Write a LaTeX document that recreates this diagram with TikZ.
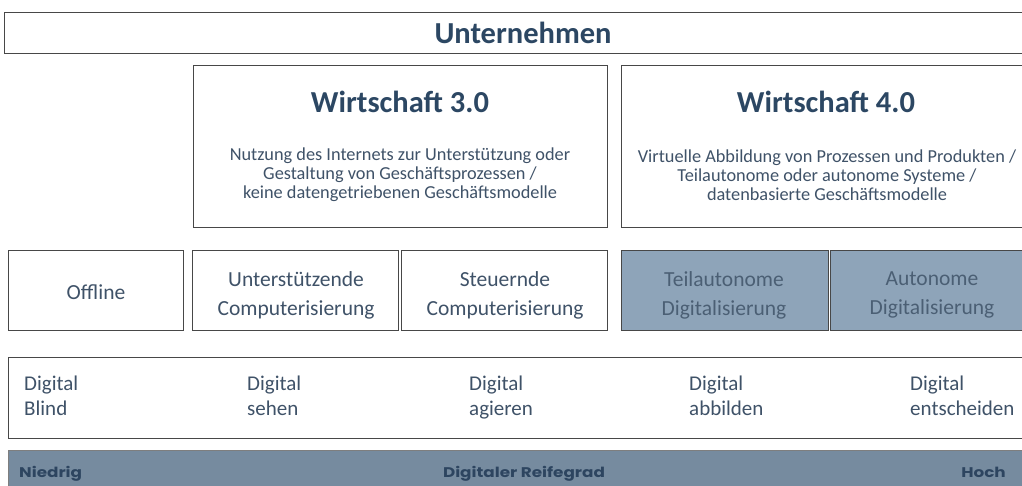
\documentclass[tikz,border=0pt]{standalone}
\usepackage{fontspec}
\setmainfont{Carlito}
\newfontfamily\barfont{Poppins}[FakeStretch=1.2]
\definecolor{headc}{HTML}{2C4763}
\definecolor{bodyc}{HTML}{3F5268}
\definecolor{darkfill}{HTML}{8EA4B9}
\definecolor{darktext}{HTML}{4B5F74}
\definecolor{barfill}{HTML}{768B9F}
\definecolor{bartext}{HTML}{2D4560}
\definecolor{framec}{HTML}{474747}
\tikzset{
  frame/.style={draw=framec, line width=1.3pt, fill=white, inner sep=0pt, anchor=north west},
  darkframe/.style={frame, fill=darkfill},
  struts/.style={execute at begin node={\vphantom{Üg}}, execute at end node={\vphantom{Üg}}},
  heading/.style={text=headc, font=\fontsize{30.5}{36}\selectfont\bfseries, inner sep=0pt},
  bodytext/.style={text=bodyc, font=\fontsize{18.3}{19.2}\selectfont, align=center, inner sep=0pt},
  celltext/.style={text=bodyc, font=\fontsize{21.5}{29}\selectfont, align=center, inner sep=0pt},
  celltwo/.style={celltext, struts},
  darkcelltext/.style={celltwo, text=darktext},
  leveltext/.style={text=bodyc, font=\fontsize{21}{25}\selectfont, align=left, anchor=west, inner sep=0pt, struts},
  bartxt/.style={text=bartext, font=\fontsize{14}{16}\selectfont\barfont\bfseries, inner sep=0pt, struts}
}
\begin{document}
\begin{tikzpicture}[x=1pt, y=-1pt]
\useasboundingbox (0,0) rectangle (1022,485);
\clip (0,0) rectangle (1022,485);
% top
\node[frame, minimum width=1030pt, minimum height=41pt] (top) at (4,12) {};
\node[heading] (toplbl) at (523,33) {Unternehmen};
% Wirtschaft boxes
\node[frame, minimum width=414pt, minimum height=162pt] (w3) at (193,65) {};
\node[heading] (w3h) at (400,102) {Wirtschaft 3.0};
\node[bodytext] (w3b) at (400,175) {Nutzung des Internets zur Unterstützung oder\\Gestaltung von Geschäftsprozessen /\\keine datengetriebenen Geschäftsmodelle};
\node[frame, minimum width=420pt, minimum height=162pt] (w4) at (621,65) {};
\node[heading] (w4h) at (826,102) {Wirtschaft 4.0};
\node[bodytext] (w4b) at (827,175) {Virtuelle Abbildung von Prozessen und Produkten /\\Teilautonome oder autonome Systeme /\\datenbasierte Geschäftsmodelle};
% row 2
\node[frame, minimum width=175pt, minimum height=80pt] (off) at (8,250) {};
\node[celltext] (offl) at (96,292) {Offline};
\node[frame, minimum width=206pt, minimum height=80pt] (uc) at (192,250) {};
\node[celltwo] (ucl) at (296,295) {Unterstützende\\Computerisierung};
\node[frame, minimum width=206pt, minimum height=80pt] (sc) at (401,250) {};
\node[celltwo] (scl) at (505,295) {Steuernde\\Computerisierung};
\node[darkframe, minimum width=207pt, minimum height=80pt] (td) at (621,250) {};
\node[darkcelltext] (tdl) at (724,295) {Teilautonome\\Digitalisierung};
\node[darkframe, minimum width=207pt, minimum height=80pt] (ad) at (830,250) {};
\node[darkcelltext] (adl) at (932,295) {Autonome\\Digitalisierung};
% row 3
\node[frame, minimum width=1030pt, minimum height=81pt] (lv) at (8,357) {};
\node[leveltext] (l1) at (24,398) {Digital\\Blind};
\node[leveltext] (l2) at (247,398) {Digital\\sehen};
\node[leveltext] (l3) at (469,398) {Digital\\agieren};
\node[leveltext] (l4) at (689,398) {Digital\\abbilden};
\node[leveltext] (l5) at (910,398) {Digital\\entscheiden};
% bar
\node[frame, draw=framec!70, fill=barfill, minimum width=1030pt, minimum height=45pt] (bar) at (8,450) {};
\node[bartxt, anchor=west] (lo) at (19,473) {Niedrig};
\node[bartxt] (mid) at (524,473) {Digitaler Reifegrad};
\node[bartxt, anchor=east] (hi) at (1006,473) {Hoch};
\end{tikzpicture}
\end{document}
